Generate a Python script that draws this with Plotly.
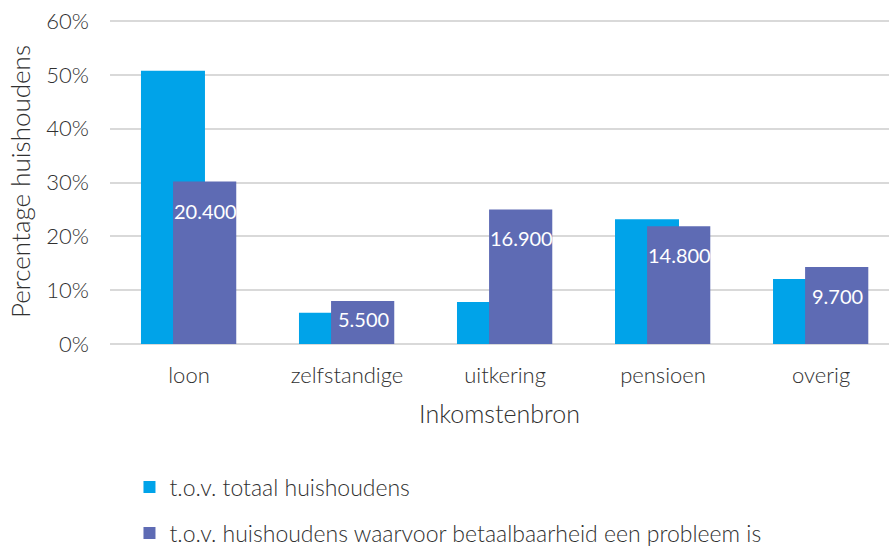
import plotly.graph_objects as go

categories = ['loon', 'zelfstandige', 'uitkering', 'pensioen', 'overig']
totaal = [50.8, 5.8, 7.8, 23.2, 12.1]
probleem = [30.2, 8.0, 25.0, 21.9, 14.3]
probleem_labels = ['20.400', '5.500', '16.900', '14.800', '9.700']
y_ticks = [0, 10, 20, 30, 40, 50, 60]
y_ticklabels = [f'{v}%' for v in y_ticks]

name_totaal = 't.o.v. totaal huishoudens'
name_probleem = 't.o.v. huishoudens waarvoor betaalbaarheid een probleem is'

BLUE = '#00A3E9'
PURPLE = '#5E6BB4'
TEXT = '#303030'
FONT = 'Lato, Noto Sans, sans-serif'

fig = go.Figure()
fig.add_trace(go.Bar(
    x=categories, y=totaal, name=name_totaal, legendgroup='a',
    marker=dict(color=BLUE, line=dict(width=0)),
    width=0.405, offset=-0.304,
))
fig.add_trace(go.Bar(
    x=categories, y=probleem, name=name_probleem, legendgroup='b',
    marker=dict(color=PURPLE, line=dict(width=0)),
    width=0.40, offset=-0.101,
))

# data labels, a bit below the top of the purple bars
px_per_unit = 325 / 60.4
for cat, val, lab in zip(categories, probleem, probleem_labels):
    bar_px = val * px_per_unit
    fig.add_annotation(
        x=cat, y=val, text=lab, showarrow=False,
        xshift=16, yshift=-min(29, bar_px / 2 - 3),
        font=dict(family=FONT, size=20, color='white', weight=400),
    )

fig.update_layout(
    width=889, height=548,
    margin=dict(l=110, r=0, t=19, b=204, autoexpand=False),
    barmode='overlay',
    plot_bgcolor='white', paper_bgcolor='white',
    font=dict(family=FONT, color=TEXT, size=22, weight=300),
    showlegend=True,
    legend=dict(
        x=0.025, y=-0.374, xanchor='left', yanchor='top',
        orientation='v', font=dict(size=23, color=TEXT, weight=300),
        tracegroupgap=13, itemwidth=30,
    ),
    xaxis=dict(
        range=[-0.5, 4.43],
        showgrid=False, showline=False, ticks='',
        tickfont=dict(size=22, color=TEXT, weight=300),
        ticklabelstandoff=16,
        title=dict(text='Inkomstenbron', font=dict(size=25, color=TEXT, weight=300), standoff=18),
    ),
    yaxis=dict(
        range=[0, 60.4], tickmode='array', tickvals=y_ticks, ticktext=y_ticklabels,
        showgrid=True, gridcolor='#D9D9D9', gridwidth=2,
        zeroline=True, zerolinecolor='#D9D9D9', zerolinewidth=2,
        showline=False, ticks='',
        tickfont=dict(size=22, color=TEXT, weight=300),
        ticklabelstandoff=20,
        title=dict(text='Percentage huishoudens', font=dict(size=26, color=TEXT, weight=300), standoff=8),
    ),
)

fig.write_html('out.html', config={'displayModeBar': False},
               post_script="document.body.style.margin='0';")
